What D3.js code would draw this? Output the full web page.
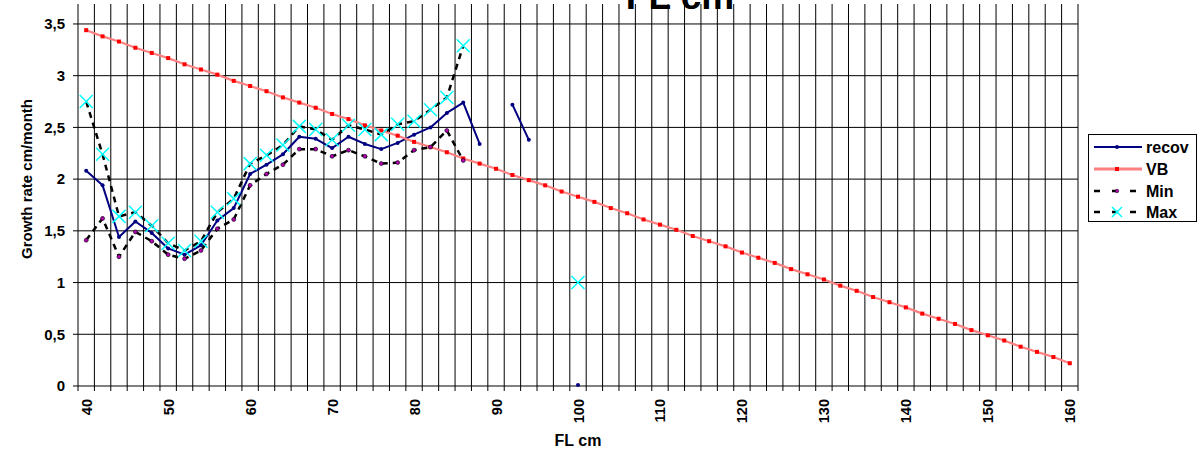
<!DOCTYPE html>
<html>
<head>
<meta charset="utf-8">
<script src="https://cdn.jsdelivr.net/npm/d3@7"></script>
<style>
  html, body { margin: 0; padding: 0; background: #fff; }
  svg { display: block; font-family: "Liberation Sans", Arial, sans-serif; }
</style>
</head>
<body>
<svg id="chart" width="1202" height="455"></svg>
<script>
// Fork length categories (cm)
const fl = [40,42,44,46,48,50,52,54,56,58,60,62,64,66,68,70,72,74,76,78,80,82,84,86,88,90,92,94,96,98,
            100,102,104,106,108,110,112,114,116,118,120,122,124,126,128,130,132,134,136,138,140,142,144,146,148,
            150,152,154,156,158,160];

// Growth rate (cm/month) from recoveries
const recov = [2.08,1.94,1.44,1.59,1.48,1.33,1.27,1.36,1.60,1.72,2.05,2.14,2.24,2.41,2.39,2.30,2.41,2.34,2.29,2.35,
               2.43,2.50,2.64,2.74,2.34,null,2.72,2.38,null,null,0.01];

// von Bertalanffy growth rate
const vb = [3.44,3.38,3.33,3.27,3.22,3.17,3.11,3.06,3.01,2.95,2.90,2.85,2.79,2.74,2.69,2.63,2.58,2.52,2.47,2.42,
            2.36,2.31,2.26,2.20,2.15,2.10,2.04,1.99,1.94,1.88,1.83,1.78,1.72,1.67,1.61,1.56,1.51,1.45,1.40,1.35,
            1.29,1.24,1.19,1.13,1.08,1.03,0.97,0.92,0.86,0.81,0.76,0.70,0.65,0.60,0.54,0.49,0.44,0.38,0.33,0.28,0.22];

// Lower and upper bounds
const minVals = [1.41,1.62,1.25,1.49,1.40,1.27,1.23,1.31,1.52,1.61,1.94,2.05,2.14,2.29,2.29,2.22,2.28,2.22,2.15,2.16,
                 2.28,2.31,2.47,2.18];
const maxVals = [2.75,2.24,1.64,1.68,1.55,1.38,1.31,1.40,1.68,1.81,2.15,2.23,2.33,2.51,2.48,2.38,2.52,2.48,2.43,2.53,
                 2.56,2.67,2.79,3.29,null,null,null,null,null,null,1.00];

const yTicks = [0, 0.5, 1, 1.5, 2, 2.5, 3, 3.5];
const xTickLabels = [40,50,60,70,80,90,100,110,120,130,140,150,160];

const svg = d3.select("#chart");
const plotLeft = 78, plotRight = 1078, plotTop = 4, plotBottom = 386;

const x = d3.scaleBand().domain(fl).range([plotLeft, plotRight]).padding(0);
const bw = x.bandwidth();
const cx = v => x(v) + bw / 2;
const y = d3.scaleLinear().domain([0, 3.693]).range([plotBottom, plotTop]);

const fmt = v => String(v).replace(".", ",");

// Grid
const grid = svg.append("g");
const bounds = fl.map(v => x(v)).concat([plotRight]);
grid.selectAll("line.v").data(bounds).join("line")
  .attr("x1", d => d).attr("x2", d => d)
  .attr("y1", plotTop).attr("y2", plotBottom + 5)
  .attr("stroke", "#000").attr("stroke-width", 1);
grid.selectAll("line.h").data(yTicks).join("line")
  .attr("x1", plotLeft - 5).attr("x2", plotRight)
  .attr("y1", d => y(d)).attr("y2", d => y(d))
  .attr("stroke", "#000").attr("stroke-width", 1);

// Y axis labels
const yAxis = svg.append("g")
  .attr("transform", `translate(${plotLeft},0)`)
  .call(d3.axisLeft(y).tickValues(yTicks).tickFormat(fmt).tickSize(0).tickPadding(13));
yAxis.select(".domain").remove();
yAxis.selectAll("text")
  .attr("font-size", 15).attr("font-weight", "bold").attr("fill", "#000")
  .attr("font-family", "Liberation Sans, Arial, sans-serif");

// X axis labels (rotated)
const xAxis = svg.append("g")
  .attr("transform", `translate(0,${plotBottom})`)
  .call(d3.axisBottom(x).tickValues(xTickLabels).tickSize(0).tickPadding(0));
xAxis.select(".domain").remove();
xAxis.selectAll("text")
  .attr("font-size", 14.5).attr("font-weight", "bold").attr("fill", "#000")
  .attr("font-family", "Liberation Sans, Arial, sans-serif")
  .attr("text-anchor", "end")
  .attr("dy", null)
  .attr("transform", "translate(5.5,13) rotate(-90)")
  .attr("x", 0).attr("y", 0);

// Axis titles
svg.append("text")
  .attr("transform", `translate(32,179) rotate(-90)`)
  .attr("text-anchor", "middle")
  .attr("font-size", 15).attr("font-weight", "bold")
  .text("Growth rate cm/month");
svg.append("text")
  .attr("x", 578).attr("y", 446)
  .attr("text-anchor", "middle")
  .attr("font-size", 16).attr("font-weight", "bold")
  .text("FL cm");
svg.append("text")
  .attr("x", 680).attr("y", 9)
  .attr("text-anchor", "middle")
  .attr("font-size", 37).attr("font-weight", "bold")
  .text("FL cm");

// Series
const plot = svg.append("g");
const lineGen = d3.line()
  .defined(d => d[1] != null)
  .x(d => cx(d[0])).y(d => y(d[1]));
const pairs = arr => arr.map((v, i) => [fl[i], v]);

// recov
const recovPts = pairs(recov);
plot.append("path").datum(recovPts).attr("d", lineGen)
  .attr("fill", "none").attr("stroke", "#000080").attr("stroke-width", 2).attr("stroke-linejoin", "round");
plot.selectAll("circle.recov").data(recovPts.filter(d => d[1] != null)).join("circle")
  .attr("cx", d => cx(d[0])).attr("cy", d => y(d[1])).attr("r", 2).attr("fill", "#000080");

// VB
const vbPts = pairs(vb);
plot.append("path").datum(vbPts).attr("d", lineGen)
  .attr("fill", "none").attr("stroke", "#ff8080").attr("stroke-width", 2.2);
plot.selectAll("rect.vb").data(vbPts).join("rect")
  .attr("x", d => cx(d[0]) - 2).attr("y", d => y(d[1]) - 2)
  .attr("width", 4).attr("height", 4).attr("fill", "#ff0000");

// Min
const minPts = pairs(minVals);
plot.append("path").datum(minPts).attr("d", lineGen)
  .attr("fill", "none").attr("stroke", "#000").attr("stroke-width", 2.5)
  .attr("stroke-dasharray", "6,5");
plot.selectAll("circle.min").data(minPts.filter(d => d[1] != null)).join("circle")
  .attr("cx", d => cx(d[0])).attr("cy", d => y(d[1])).attr("r", 2)
  .attr("fill", "#b000b0").attr("stroke", "#000").attr("stroke-width", 0.6);

// Max
const maxPts = pairs(maxVals);
plot.append("path").datum(maxPts).attr("d", lineGen)
  .attr("fill", "none").attr("stroke", "#000").attr("stroke-width", 2.5)
  .attr("stroke-dasharray", "6,5");
const xMark = (g, px, py, s) => {
  g.append("path")
    .attr("d", `M${px - s},${py - s}L${px + s},${py + s}M${px - s},${py + s}L${px + s},${py - s}`)
    .attr("stroke", "#00ffff").attr("stroke-width", 1.5).attr("fill", "none");
};
maxPts.filter(d => d[1] != null).forEach(d => xMark(plot, cx(d[0]), y(d[1]), 6.5));

// Legend
const lg = svg.append("g");
lg.append("rect").attr("x", 1088.5).attr("y", 134.5).attr("width", 108).attr("height", 87)
  .attr("fill", "#fff").attr("stroke", "#000").attr("stroke-width", 1);
const ly = [147, 169, 191, 212];
const lx1 = 1094, lx2 = 1142, lmid = 1117;
const names = ["recov", "VB", "Min", "Max"];
lg.selectAll("text").data(names).join("text")
  .attr("x", 1146).attr("y", (d, i) => ly[i] + 6)
  .attr("font-size", 16).attr("font-weight", "bold").text(d => d);
lg.append("line").attr("x1", lx1).attr("x2", lx2).attr("y1", ly[0]).attr("y2", ly[0])
  .attr("stroke", "#000080").attr("stroke-width", 2);
lg.append("circle").attr("cx", lmid).attr("cy", ly[0]).attr("r", 2).attr("fill", "#000080");
lg.append("line").attr("x1", lx1).attr("x2", lx2).attr("y1", ly[1]).attr("y2", ly[1])
  .attr("stroke", "#ff8080").attr("stroke-width", 3);
lg.append("rect").attr("x", lmid - 2).attr("y", ly[1] - 2).attr("width", 4).attr("height", 4).attr("fill", "#ff0000");
lg.append("line").attr("x1", lx1).attr("x2", lx2).attr("y1", ly[2]).attr("y2", ly[2])
  .attr("stroke", "#000").attr("stroke-width", 2.5).attr("stroke-dasharray", "6,12");
lg.append("circle").attr("cx", lmid).attr("cy", ly[2]).attr("r", 1.8)
  .attr("fill", "#b000b0").attr("stroke", "#000").attr("stroke-width", 0.5);
lg.append("line").attr("x1", lx1).attr("x2", lx2).attr("y1", ly[3]).attr("y2", ly[3])
  .attr("stroke", "#000").attr("stroke-width", 2.5).attr("stroke-dasharray", "6,12");
xMark(lg, lmid, ly[3], 5);
</script>
</body>
</html>
